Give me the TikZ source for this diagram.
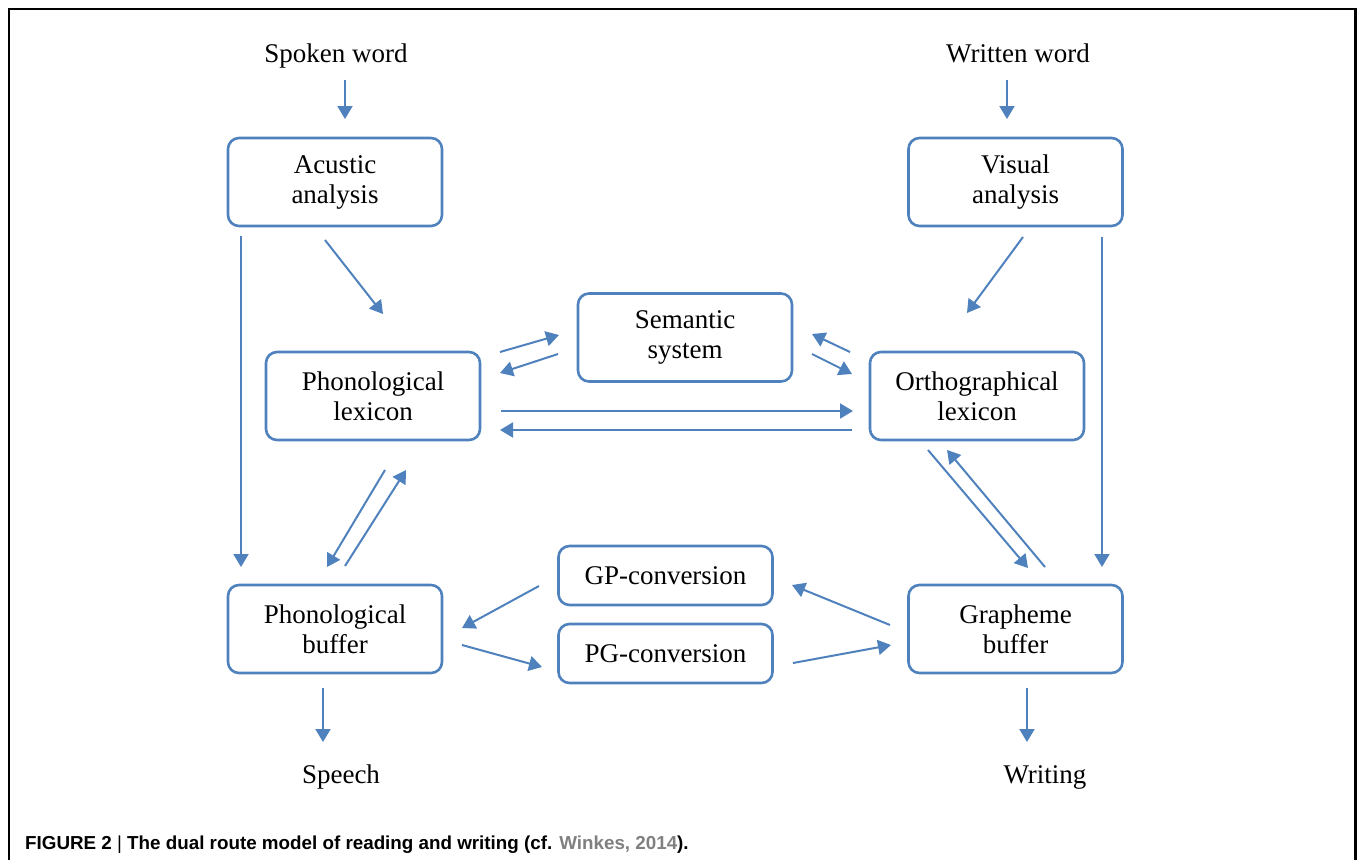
\documentclass[tikz,border=0pt]{standalone}
\usepackage{fontspec}
\setmainfont{Liberation Serif}
\newfontfamily\capfont{Liberation Sans}
\usetikzlibrary{arrows.meta}
\definecolor{oblue}{RGB}{79,129,189}
\definecolor{citegray}{RGB}{128,128,128}
\tikzset{
  box/.style={draw=oblue, line width=2.6pt, rounded corners=11pt, minimum width=214pt,
    minimum height=88pt, align=center, inner sep=0pt, font=\fontsize{27}{30}\selectfont},
  smallbox/.style={box, minimum height=59pt},
  lbl/.style={inner sep=0pt, anchor=base, font=\fontsize{27}{30}\selectfont},
  arr/.style={draw=oblue, line width=2pt, -{Triangle[length=13pt,width=15pt]}},
}
\begin{document}
\begin{tikzpicture}[x=1pt,y=-1pt]
\useasboundingbox (0,0) rectangle (1357,860);
% frame
\draw[line width=2.4pt] (9,860) -- (9,9) -- (1355.5,9) -- (1355.5,860);

% labels
\node[lbl] (spoken) at (336,62) {Spoken word};
\node[lbl] (written) at (1018,62) {Written word};
\node[lbl] (speech) at (341,783) {Speech};
\node[lbl] (writing) at (1045,783) {Writing};

% boxes
\node[box] (acu) at (335,182) {Acustic\\analysis};
\node[box] (vis) at (1015.5,182) {Visual\\analysis};
\node[box] (sem) at (685,337.5) {Semantic\\system};
\node[box] (plex) at (373,396) {Phonological\\lexicon};
\node[box] (olex) at (977,396) {Orthographical\\lexicon};
\node[smallbox] (gp) at (665.5,575.5) {GP-conversion};
\node[smallbox] (pg) at (665.5,653.5) {PG-conversion};
\node[box] (pbuf) at (335,629) {Phonological\\buffer};
\node[box] (gbuf) at (1015.5,629) {Grapheme\\buffer};

% connector end points
\coordinate (c1a) at (345,80);   \coordinate (c1b) at (345,119);
\coordinate (c2a) at (1007,80);  \coordinate (c2b) at (1007,119);
\coordinate (c3a) at (325,240);  \coordinate (c3b) at (383,314);
\coordinate (c4a) at (1023,237); \coordinate (c4b) at (967,313);
\coordinate (c5a) at (241,236);  \coordinate (c5b) at (241,567);
\coordinate (c6a) at (1102,237); \coordinate (c6b) at (1102,567);
\coordinate (c7a) at (500,352);  \coordinate (c7b) at (559,335);
\coordinate (c8a) at (558,354);  \coordinate (c8b) at (500,373);
\coordinate (c9a) at (850,352);  \coordinate (c9b) at (812,334);
\coordinate (c10a) at (812,354); \coordinate (c10b) at (852,374);
\coordinate (c11a) at (501,411); \coordinate (c11b) at (853,411);
\coordinate (c12a) at (852,430); \coordinate (c12b) at (500,430);
\coordinate (c13a) at (385,470); \coordinate (c13b) at (327,567);
\coordinate (c14a) at (345,566); \coordinate (c14b) at (406,470);
\coordinate (c15a) at (928,450); \coordinate (c15b) at (1028,568);
\coordinate (c16a) at (1045,567); \coordinate (c16b) at (947,450);
\coordinate (c17a) at (890,625); \coordinate (c17b) at (792,585);
\coordinate (c18a) at (539,586); \coordinate (c18b) at (462,628);
\coordinate (c19a) at (462,645); \coordinate (c19b) at (542,667);
\coordinate (c20a) at (793,663); \coordinate (c20b) at (891,645);
\coordinate (c21a) at (323,688); \coordinate (c21b) at (323,742);
\coordinate (c22a) at (1027,688); \coordinate (c22b) at (1027,742);

\foreach \i in {1,...,22} \draw[arr] (c\i a) -- (c\i b);

% caption
\node[anchor=base west, inner sep=0pt, font=\capfont\bfseries\fontsize{18.8}{22}\selectfont] (cap) at (25,849.5)
  {FIGURE 2 {\mdseries|} The dual route model of reading and writing (cf. \textcolor{citegray}{Winkes, 2014}).};
\end{tikzpicture}
\end{document}
